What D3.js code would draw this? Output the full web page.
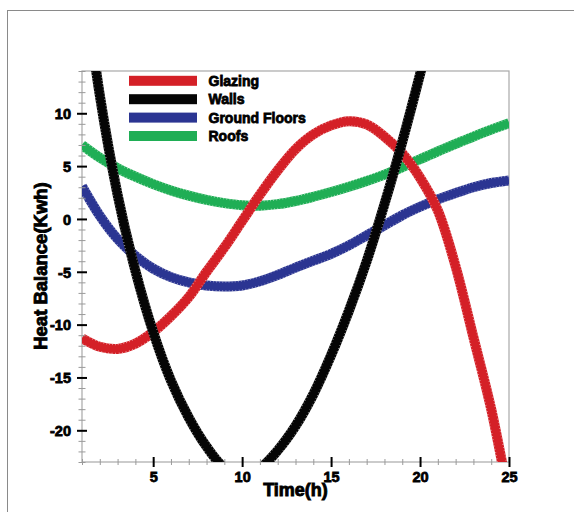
<!DOCTYPE html>
<html>
<head>
<meta charset="utf-8">
<script src="https://cdn.jsdelivr.net/npm/d3@7"></script>
<style>
  html, body { margin: 0; padding: 0; background: #fff; }
  svg { display: block; }
  text { font-family: "Liberation Sans", Arial, sans-serif; font-weight: bold; fill: #000; }
</style>
</head>
<body>
<svg id="chart" width="574" height="512"></svg>
<script>
// ---- data ----
const hours = [1,2,3,4,5,6,7,8,9,10,11,12,13,14,15,16,17,18,19,20,21,22,23,24,25];
const glazing = [-11.3,-12.1,-12.3,-11.8,-10.7,-9.2,-7.4,-5.0,-2.7,-0.2,2.3,4.6,6.6,8.0,8.85,9.25,8.95,7.8,6.2,3.9,0.8,-4.5,-11.2,-18.0,-26.5];
const walls = [24.2,11.7,2.3,-4.9,-10.7,-15.3,-18.8,-21.55,-23.55,-24.3,-23.6,-21.9,-19.6,-16.6,-12.9,-8.7,-4.0,1.4,7.3,13.7,20.5,27.7,35,42.5,50];
const groundFloors = [3.1,0.3,-1.9,-3.5,-4.7,-5.5,-6.0,-6.3,-6.4,-6.3,-5.9,-5.3,-4.6,-3.95,-3.3,-2.5,-1.55,-0.6,0.35,1.15,1.85,2.45,3.0,3.4,3.65];
const roofs = [7.0,5.8,4.8,4.0,3.3,2.7,2.2,1.8,1.5,1.3,1.25,1.4,1.7,2.1,2.55,3.05,3.6,4.2,4.9,5.65,6.4,7.1,7.8,8.45,9.05];
const seriesNames = ["Glazing","Walls","Ground Floors","Roofs"];
const seriesColors = ["#d42027","#050505","#2b3592","#1fae55"];
const xTicks = [5,10,15,20,25];
const xMinorTicks = d3.range(1,26);
const yTicks = [-20,-15,-10,-5,0,5,10];
const yTickLabels = ["-20","-15","-10","-5","0","5","10"];
const yMinorTicks = d3.range(-23,15);
const xTitle = "Time(h)";
const yTitle = "Heat Balance(Kwh)";

// ---- layout ----
const svg = d3.select("#chart");
const L = 82, R = 509, T = 71, B = 462;
const x = d3.scaleLinear().domain([1,25]).range([L,R]);
const y = d3.scaleLinear().domain([-23,14]).range([B,T]);

// outer frame (top & left edges visible)
svg.append("rect").attr("x",7.5).attr("y",10.5).attr("width",700).attr("height",700)
  .attr("fill","none").attr("stroke","#8a8a8a").attr("stroke-width",1);

// plot frame
svg.append("rect").attr("x",L).attr("y",T).attr("width",R-L).attr("height",B-T)
  .attr("fill","none").attr("stroke","#a8a8a8").attr("stroke-width",1.2);

// clip
svg.append("clipPath").attr("id","plotclip").append("rect")
  .attr("x",L).attr("y",T).attr("width",R-L).attr("height",B-T);

// series
const allSeries = [glazing, walls, groundFloors, roofs];
const line = d3.line().x((d,i)=>x(hours[i])).y(d=>y(d)).curve(d3.curveCatmullRom.alpha(0.5));
const g = svg.append("g").attr("clip-path","url(#plotclip)");
const order = [3,2,0,1];
order.forEach(k => {
  const data = allSeries[k];
  g.append("path").datum(data).attr("d",line).attr("fill","none")
    .attr("stroke",seriesColors[k]).attr("stroke-width",10).attr("stroke-linejoin","round");
  g.append("path").datum(data).attr("d",line).attr("fill","none")
    .attr("stroke","#fff").attr("stroke-opacity",0.55).attr("stroke-width",10)
    .attr("stroke-dasharray","0.8 2.4");
  g.append("path").datum(data).attr("d",line).attr("fill","none")
    .attr("stroke",seriesColors[k]).attr("stroke-width",7.5).attr("stroke-linejoin","round");
});

// minor ticks
const yMinor = svg.append("g").attr("transform",`translate(${L},0)`)
  .call(d3.axisLeft(y).tickValues(yMinorTicks).tickSize(3.5).tickFormat(""));
yMinor.select(".domain").remove();
yMinor.selectAll("line").attr("x1",3.5).attr("stroke","#9a9a9a").attr("stroke-width",1);

const xMinor = svg.append("g").attr("transform",`translate(0,${B})`)
  .call(d3.axisBottom(x).tickValues(xMinorTicks).tickSize(3).tickFormat(""));
xMinor.select(".domain").remove();
xMinor.selectAll("line").attr("y1",-3).attr("stroke","#9a9a9a").attr("stroke-width",1);

// major ticks + labels
const yAxis = svg.append("g").attr("transform",`translate(${L},0)`)
  .call(d3.axisLeft(y).tickValues(yTicks).tickSize(5).tickPadding(6)
    .tickFormat((d,i)=>yTickLabels[i]));
yAxis.select(".domain").remove();
yAxis.selectAll("line").attr("x1",5).attr("stroke","#000").attr("stroke-width",2);
yAxis.selectAll("text").attr("font-size",14.5).attr("font-family","Liberation Sans, Arial, sans-serif")
  .attr("font-weight","bold").attr("fill","#000").attr("stroke","#000").attr("stroke-width",0.8)
  .attr("dy","0.36em");

const xAxis = svg.append("g").attr("transform",`translate(0,${B})`)
  .call(d3.axisBottom(x).tickValues(xTicks).tickSize(5).tickPadding(5));
xAxis.select(".domain").remove();
xAxis.selectAll("line").attr("y1",-5).attr("stroke","#000").attr("stroke-width",2);
xAxis.selectAll("text").attr("font-size",14.5).attr("font-family","Liberation Sans, Arial, sans-serif")
  .attr("font-weight","bold").attr("fill","#000").attr("stroke","#000").attr("stroke-width",0.8);

// titles
svg.append("text").attr("x",(L+R)/2).attr("y",496).attr("text-anchor","middle")
  .attr("font-size",18).attr("stroke","#000").attr("stroke-width",0.9).text(xTitle);
svg.append("text").attr("transform",`translate(47,${266}) rotate(-90)`).attr("text-anchor","middle")
  .attr("font-size",18.5).attr("stroke","#000").attr("stroke-width",0.9).text(yTitle);

// legend
const legend = svg.append("g");
seriesNames.forEach((name,i)=>{
  const cy = 80.8 + i*18.4;
  legend.append("rect").attr("x",129).attr("y",cy-5).attr("width",68).attr("height",10)
    .attr("fill",seriesColors[i]);
  legend.append("text").attr("x",208.5).attr("y",cy+5).attr("font-size",14)
    .attr("stroke","#000").attr("stroke-width",0.8).text(name);
});
</script>
</body>
</html>
